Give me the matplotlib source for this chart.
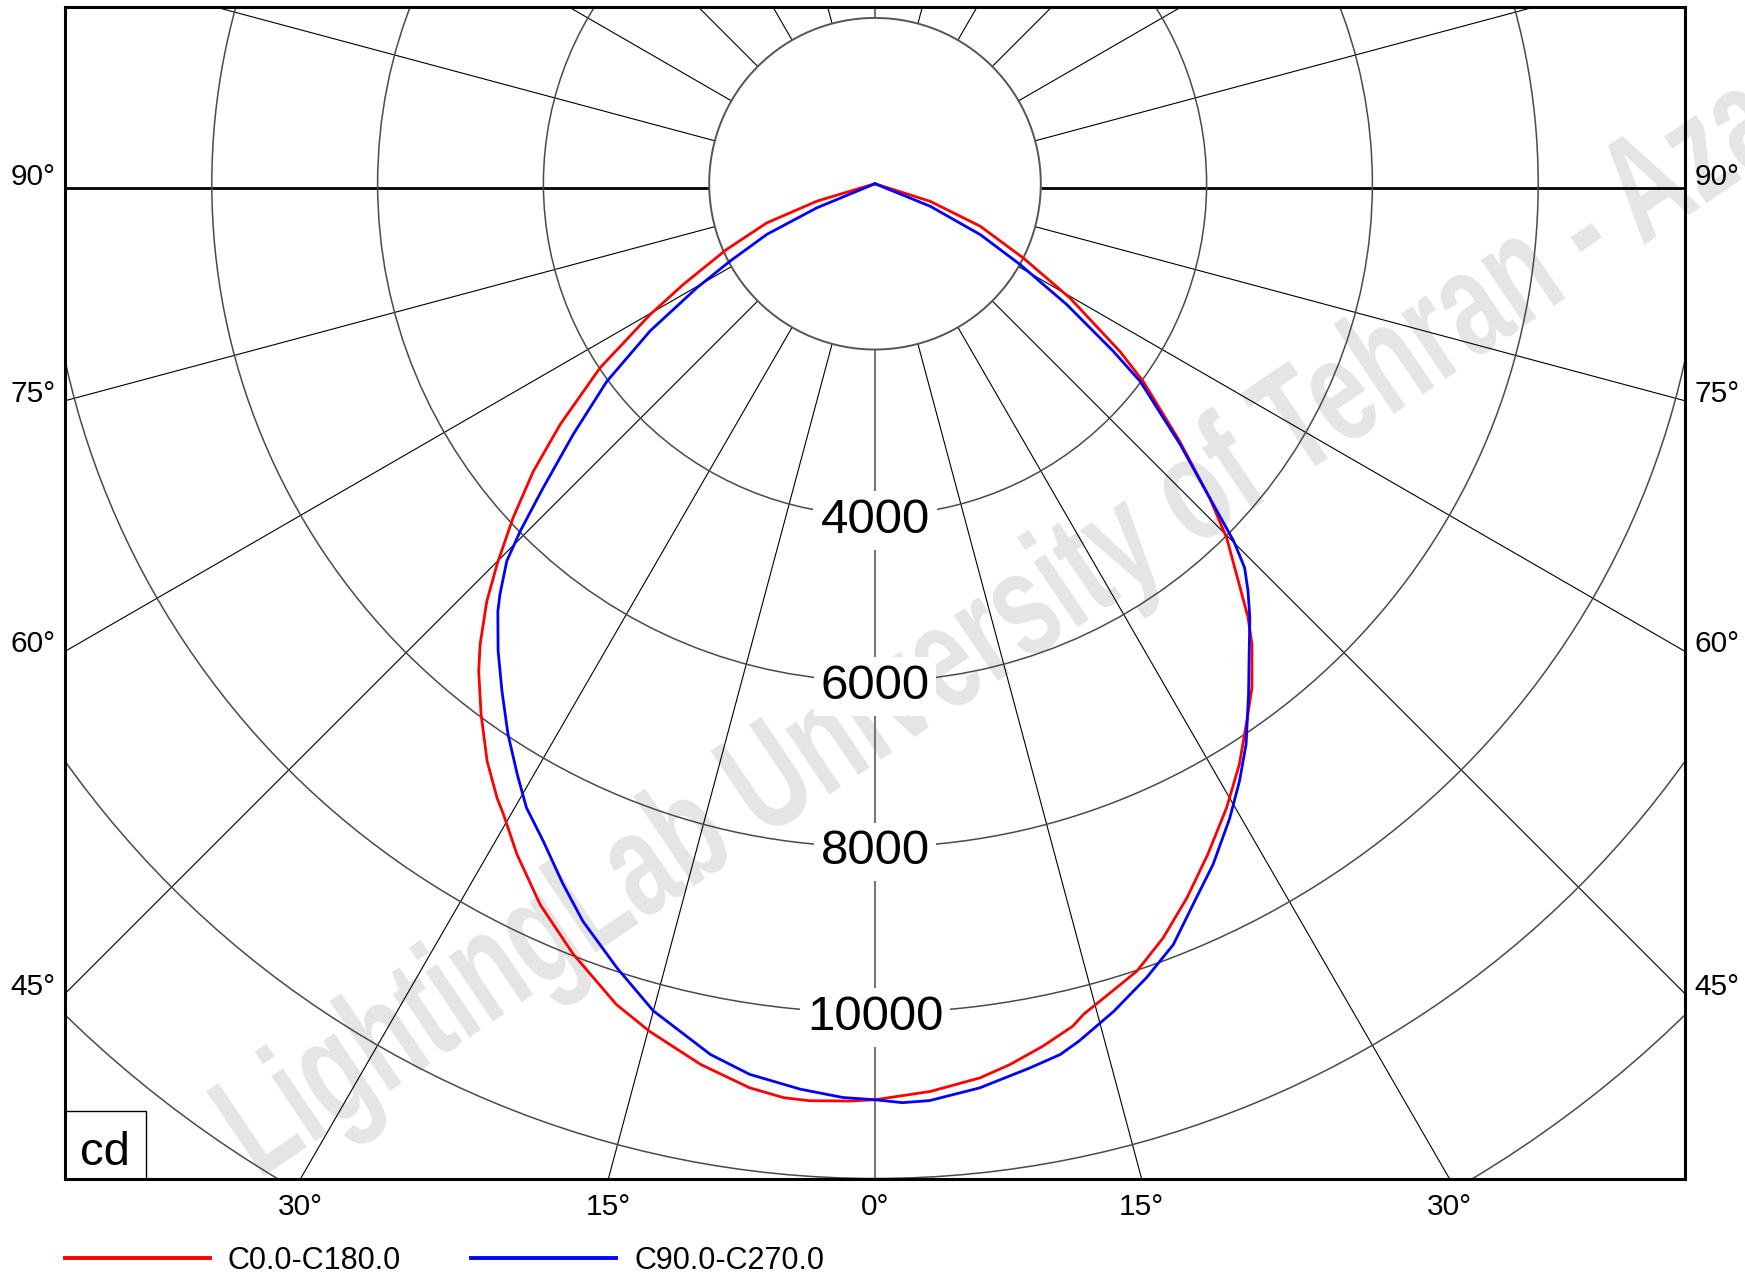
import numpy as np
import matplotlib
matplotlib.use("Agg")
import matplotlib.pyplot as plt
import matplotlib.transforms as mtransforms
from matplotlib.patches import Circle, Rectangle
from matplotlib.lines import Line2D
from matplotlib.patheffects import AbstractPathEffect

plt.rcParams['font.family'] = ['Liberation Sans', 'DejaVu Sans']

# luminous intensity (cd) against gamma (deg)
# C180 half (left), gamma going 90 -> 0
c180_gamma = [90, 73.3, 70.1, 66.1, 62.3, 59.8, 56.2, 52.6, 49.9, 47.3, 44.8, 42.9,
              40.6, 39.1, 36.6, 33.9, 31.6, 30.5, 28.1, 24.9, 21.4, 17.5, 14.9, 11.2,
              7.9, 5.7, 4.1, 1.6, 0]
c180_cd = [0, 730, 1390, 1960, 2610, 3140, 3990, 4780, 5390, 5940, 6470, 6880,
           7320, 7580, 7970, 8390, 8700, 8830, 9170, 9590, 9980, 10380, 10580, 10830,
           11010, 11080, 11090, 11070, 11050]
# C0 half (right), gamma going 0 -> 90
c0_gamma = [0, 3.5, 6.7, 8.7, 11.0, 13.2, 14.1, 16.4, 18.4, 20.9, 23.6, 26.4, 29.4,
            32.1, 34.7, 36.8, 39.3, 40.7, 42.1, 44.8, 46.8, 49.8, 53.6, 55.6, 59.6,
            63.4, 68.0, 72.3, 90]
c0_cd = [11050, 10970, 10860, 10750, 10600, 10440, 10330, 10150, 10010, 9740, 9400,
         9030, 8640, 8270, 7880, 7590, 7180, 6900, 6570, 6020, 5540, 4810, 4020, 3580,
         2730, 2000, 1370, 700, 0]
# C270 half (left), gamma going 90 -> 0
c270_gamma = [90, 67.5, 64.9, 61.9, 59.7, 56.8, 53.6, 50.3, 47.5, 45.6, 44.3, 42.4,
              41.4, 38.9, 36.3, 33.7, 31.2, 29.2, 26.8, 24.0, 21.6, 18.2, 15.0, 10.7,
              8.0, 4.7, 2.0, 0]
c270_cd = [0, 760, 1440, 1980, 2490, 3240, 4020, 4730, 5430, 5990, 6360, 6710,
           6880, 7240, 7600, 7980, 8330, 8620, 8880, 9250, 9570, 9960, 10330, 10690,
           10850, 10960, 11030, 11050]
# C90 half (right), gamma going 0 -> 90
c90_gamma = [0, 1.7, 3.4, 6.6, 9.9, 12.0, 13.4, 16.1, 18.9, 21.4, 24.2, 26.4, 29.2,
             31.4, 33.5, 36.2, 38.5, 40.8, 42.5, 43.9, 45.1, 46.8, 49.5, 53.3, 54.9,
             57.8, 60.9, 64.2, 67.8, 90]
c90_cd = [11050, 11090, 11080, 10980, 10830, 10740, 10630, 10390, 10120, 9860, 9450,
          9170, 8770, 8440, 8110, 7630, 7250, 6920, 6660, 6430, 6110, 5540, 4840, 3990,
          3510, 2730, 2000, 1410, 720, 0]

rings = [4000, 6000, 8000, 10000, 12000, 14000, 16000]
ring_labels = [4000, 6000, 8000, 10000]
inner_ring = 2000
spokes = list(range(0, 360, 15))
side_angles = [90, 75, 60, 45]
bottom_angles = [-30, -15, 0, 15, 30]
series_names = ['C0.0-C180.0', 'C90.0-C270.0']
watermark = 'LightingLab University of Tehran - Azad'


class Stretch(AbstractPathEffect):
    """squeeze/stretch rotated glyphs along and across their baseline"""

    def __init__(self, angle, sx, sy):
        super().__init__()
        self.angle, self.sx, self.sy = angle, sx, sy

    def draw_path(self, renderer, gc, tpath, affine, rgbFace=None):
        m = affine.get_matrix()
        x0, y0 = m[0, 2], m[1, 2]
        extra = (mtransforms.Affine2D().translate(-x0, -y0).rotate_deg(-self.angle)
                 .scale(self.sx, self.sy).rotate_deg(self.angle).translate(x0, y0))
        renderer.draw_path(gc, tpath, affine + extra, rgbFace)


W, H = 1745, 1275
fig = plt.figure(figsize=(W / 100, H / 100), dpi=100)
ax = fig.add_axes([65 / W, 1 - 1178.5 / H, 1620 / W, 1172 / H])
xmax = 9771
ymin = -12000
ymax = ymin + (xmax * 2) * 1172 / 1620
ax.set_xlim(-xmax, xmax)
ax.set_ylim(ymin, ymax)
ax.set_xticks([])
ax.set_yticks([])
ax.patch.set_visible(False)
for s in ax.spines.values():
    s.set_linewidth(2.2)
    s.set_zorder(6)


def to_xy(gamma, cd, side):
    g = np.radians(gamma)
    I = np.asarray(cd, dtype=float)
    return side * I * np.sin(g), -I * np.cos(g)


# spokes every 15 deg
horizon_dy = -50
for a in spokes:
    t = np.radians(a)
    col, lw, dy = 'black', 0.8, 0
    if a % 180 == 0:
        col, lw = '#777777', 1.5
    if a % 180 == 90:
        lw, dy = 2.0, horizon_dy
    ax.plot([inner_ring * np.sin(t), 30000 * np.sin(t)],
            [-inner_ring * np.cos(t) + dy, -30000 * np.cos(t) + dy],
            color=col, lw=lw, zorder=1, solid_capstyle='butt')

for r in rings:
    ax.add_patch(Circle((0, 0), r, fill=False, ec='#4a4a4a', lw=1.1, zorder=1.5))
ax.add_patch(Circle((0, 0), inner_ring, fc='white', ec='#555555', lw=1.4, zorder=2))

for r in ring_labels:
    ax.text(0, -r, str(r), ha='center', va='center_baseline', fontsize=35.5, zorder=3,
            bbox=dict(fc='white', ec='none', pad=5))

# curves
xl, yl = to_xy(c180_gamma, c180_cd, -1)
xr, yr = to_xy(c0_gamma, c0_cd, 1)
ax.plot(np.concatenate([xl, xr]), np.concatenate([yl, yr]), color='red', lw=2.0, zorder=5)
xl, yl = to_xy(c270_gamma, c270_cd, -1)
xr, yr = to_xy(c90_gamma, c90_cd, 1)
ax.plot(np.concatenate([xl, xr]), np.concatenate([yl, yr]), color='blue', lw=2.0, zorder=5)

# angle labels
trans_side = mtransforms.blended_transform_factory(ax.transAxes, ax.transData)
for a in side_angles:
    y = -xmax / np.tan(np.radians(a)) + 120
    ax.text(-0.0059, y, f"{a}°", transform=trans_side, ha='right', va='center_baseline',
            fontsize=21.5, clip_on=False)
    ax.text(1.0059, y, f"{a}°", transform=trans_side, ha='left', va='center_baseline',
            fontsize=21.5, clip_on=False)
trans_bot = mtransforms.blended_transform_factory(ax.transData, ax.transAxes)
for a in bottom_angles:
    x = -ymin * np.tan(np.radians(a))
    ax.text(x, -0.0218, f"{abs(a)}°", transform=trans_bot, ha='center', va='center_baseline',
            fontsize=21.5, clip_on=False)

# unit box
ax.add_patch(Rectangle((0, 0), 81 / 1620, 68 / 1172, transform=ax.transAxes,
                       fc='white', ec='black', lw=1.0, zorder=4))
ax.text(0.0246, 0.0115, 'cd', transform=ax.transAxes, ha='center', va='baseline',
        fontsize=34, zorder=4.5)

# legend
handles = [Line2D([], [], color='red', lw=2.8, label=series_names[0]),
           Line2D([], [], color='blue', lw=2.8, label=series_names[1])]
fig.legend(handles=handles, loc='center left', bbox_to_anchor=(64.5 / W, 1 - 1261 / H),
           ncol=2, frameon=False, fontsize=22, handlelength=4.75, handletextpad=0.6,
           columnspacing=2.27, borderaxespad=0, borderpad=0)

# watermark, tall and narrow like the original
wm_angle = 34
fig.text(258 / W, 1 - 1180 / H, watermark, rotation=wm_angle,
         rotation_mode='anchor', ha='left', va='baseline', fontsize=86,
         fontweight='bold', color='#e5e5e5', zorder=-5,
         path_effects=[Stretch(wm_angle, 0.85, 1.25)])

fig.savefig('out.png', dpi=100)
